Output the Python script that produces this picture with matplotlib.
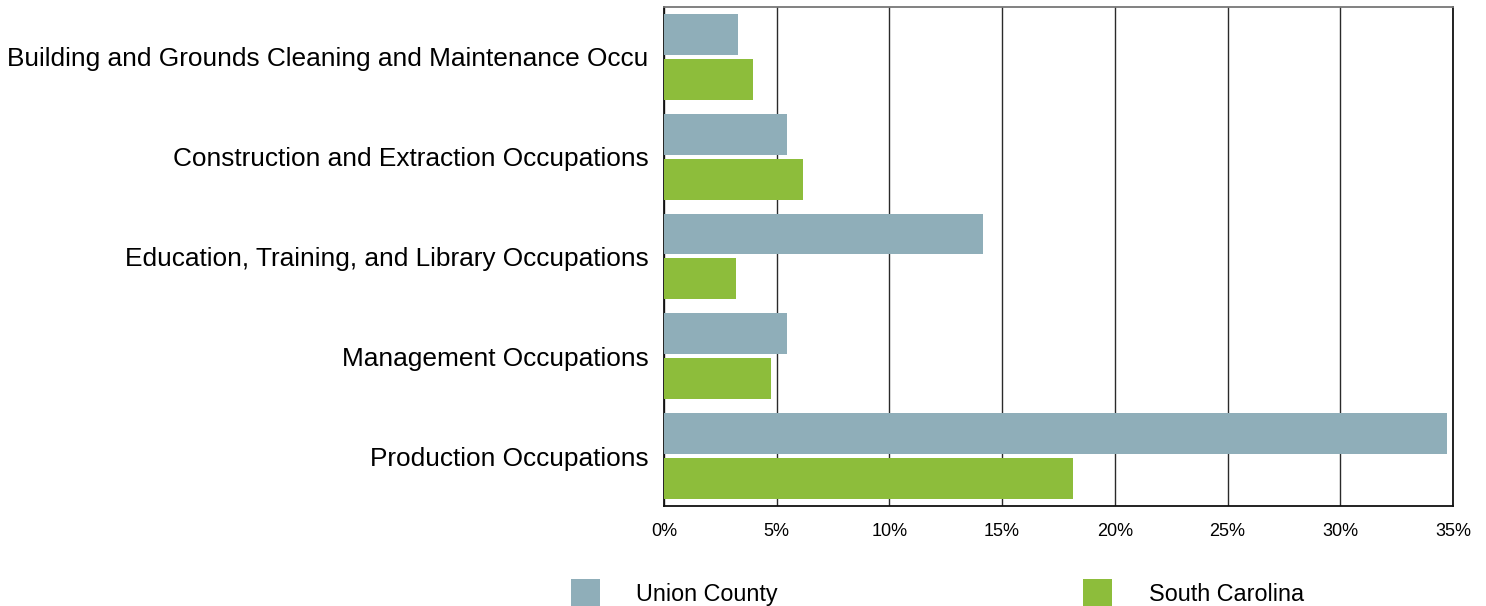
import numpy as np
import matplotlib.pyplot as plt
from matplotlib.patches import Patch
from matplotlib import ticker

plt.rcParams['font.family'] = ['Liberation Sans', 'DejaVu Sans']

categories = ['Building and Grounds Cleaning and Maintenance Occu',
              'Construction and Extraction Occupations',
              'Education, Training, and Library Occupations',
              'Management Occupations',
              'Production Occupations']
union_county = [3.3, 5.45, 14.15, 5.45, 34.75]
south_carolina = [3.95, 6.15, 3.2, 4.75, 18.15]
series_names = ['Union County', 'South Carolina']

c_uc = '#8FAEB9'
c_sc = '#8DBD3B'

fig = plt.figure(figsize=(14.86, 6.06), dpi=100)
ax = fig.add_axes([0.4468, 0.165, 0.531, 0.8235])

y = np.arange(len(categories))
h = 0.41
ax.barh(y - 0.225, union_county, height=h, color=c_uc, zorder=3)
ax.barh(y + 0.225, south_carolina, height=h, color=c_sc, zorder=3)

ax.set_ylim(4.5, -0.5)
ax.set_xlim(0, 35)
ax.set_yticks(y)
ax.set_yticklabels(categories, fontsize=18.9)
ax.tick_params(axis='y', length=0, pad=11)
ax.set_xticks(np.arange(0, 36, 5))
ax.xaxis.set_major_formatter(ticker.FuncFormatter(lambda v, p: '%d%%' % v))
ax.tick_params(axis='x', length=0, pad=12, labelsize=13)
ax.grid(axis='x', color='#2a2a2a', linewidth=1.0, zorder=1)

for s in ['left', 'bottom', 'right']:
    ax.spines[s].set_color('#111111')
    ax.spines[s].set_linewidth(1.3)
ax.spines['top'].set_color('#777777')
ax.spines['top'].set_linewidth(1.3)

handles = [Patch(facecolor=c_uc), Patch(facecolor=c_sc)]
fig.legend(handles, series_names, loc='center left', bbox_to_anchor=(0.3843, 0.021),
           ncol=2, frameon=False, fontsize=16.8, handlelength=1.24, handleheight=1.45,
           handletextpad=1.55, columnspacing=13.1, borderpad=0, borderaxespad=0)

fig.savefig('out.png', dpi=100)
